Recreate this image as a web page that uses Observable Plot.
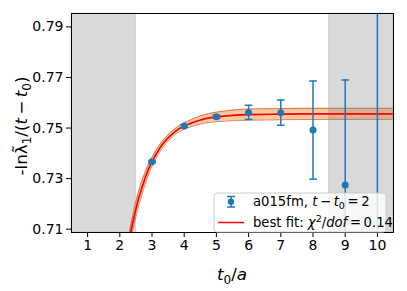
<!DOCTYPE html>
<html><head><meta charset="utf-8">
<script src="https://cdn.jsdelivr.net/npm/d3@7"></script>
<script src="https://cdn.jsdelivr.net/npm/@observablehq/plot@0.6"></script>
<style>body{margin:0;background:#fff} svg{display:block}</style>
</head><body><div id="chart"></div>
<script>
// data points (effective mass)
const t0 = [3, 4, 5, 6, 7, 8, 9, 10];
const effMass = [0.7367, 0.7508, 0.7545, 0.7562, 0.7561, 0.7492, 0.7275, 0.68];
const effErr = [0.0004, 0.0005, 0.0006, 0.0028, 0.0050, 0.0194, 0.0415, 0.2];
// best-fit curve and its band
const fitT = [2.2, 2.3, 2.4, 2.5, 2.6, 2.8, 3.0, 3.25, 3.5, 3.75, 4.0, 4.5, 5.0, 5.5, 6.0, 7.0, 8.0, 9.0, 10.0, 10.5];
const fitY = [0.6986, 0.7060, 0.7124, 0.7179, 0.7228, 0.7307, 0.7367, 0.7422, 0.7461, 0.7489, 0.7508, 0.7532, 0.7544, 0.7550, 0.7553, 0.7555, 0.7556, 0.7556, 0.7556, 0.7556];
const fitErr = [0.0030, 0.0030, 0.0030, 0.0030, 0.0029, 0.0024, 0.0018, 0.0014, 0.0012, 0.0012, 0.0013, 0.0016, 0.0019, 0.0021, 0.0022, 0.0022, 0.0022, 0.0022, 0.0022, 0.0022];
// excluded ranges (grey)
const exclLo = [0.5, 8.5];
const exclHi = [2.5, 10.5];
// axes
const xTicks = [1, 2, 3, 4, 5, 6, 7, 8, 9, 10];
const yTicks = [0.71, 0.73, 0.75, 0.77, 0.79];
const xDomain = [0.5, 10.5];
const yDomain = [0.7087, 0.7953];
const legendLabels = ["a015fm", "best fit"];

const pts = t0.map((t, i) => ({t, y: effMass[i], e: effErr[i]}));
const fit = fitT.map((t, i) => ({t, y: fitY[i], e: fitErr[i]}));
const excl = exclLo.map((a, i) => ({a, b: exclHi[i]}));
const capW = 0.12;
const blue = "#1f77b4";
const ts = "\u2009";

const chart = Plot.plot({
  width: 407, height: 291,
  marginLeft: 71, marginRight: 14, marginTop: 13, marginBottom: 59,
  style: {fontFamily: "DejaVu Sans", fontSize: "14px", color: "black", background: "white"},
  x: {domain: xDomain},
  y: {domain: yDomain},
  marks: [
    Plot.areaY(fit, {x: "t", y1: d => d.y - d.e, y2: d => d.y + d.e, fill: "#f99a55", fillOpacity: 0.55, curve: "natural", clip: true}),
    Plot.line(fit, {x: "t", y: d => d.y - d.e, stroke: "#d0652f", strokeOpacity: 0.8, strokeWidth: 1, curve: "natural", clip: true}),
    Plot.line(fit, {x: "t", y: d => d.y + d.e, stroke: "#d0652f", strokeOpacity: 0.8, strokeWidth: 1, curve: "natural", clip: true}),
    Plot.rect(excl, {x1: "a", x2: "b", y1: yDomain[0], y2: yDomain[1], fill: "#808080", fillOpacity: 0.3, stroke: "#808080", strokeOpacity: 0.25}),
    Plot.line(fit, {x: "t", y: "y", stroke: "#ff0000", strokeWidth: 1.7, curve: "natural", clip: true}),
    Plot.ruleX(pts, {x: "t", y1: d => d.y - d.e, y2: d => d.y + d.e, stroke: blue, strokeWidth: 1.5, clip: true}),
    Plot.link(pts, {x1: d => d.t - capW, x2: d => d.t + capW, y1: d => d.y - d.e, y2: d => d.y - d.e, stroke: blue, strokeWidth: 1.5, clip: true}),
    Plot.link(pts, {x1: d => d.t - capW, x2: d => d.t + capW, y1: d => d.y + d.e, y2: d => d.y + d.e, stroke: blue, strokeWidth: 1.5, clip: true}),
    Plot.dot(pts, {x: "t", y: "y", r: 3.5, fill: blue, clip: true}),
    Plot.frame({stroke: "black", strokeWidth: 1}),
    Plot.axisX({ticks: xTicks, tickSize: 5, tickPadding: 3, label: null, fontSize: 14}),
    Plot.axisY({ticks: yTicks, tickFormat: d3.format(".2f"), tickSize: 5, tickPadding: 3, label: null, fontSize: 14})
  ]
});
document.getElementById("chart").appendChild(chart);

const svg = d3.select(chart);
const font = "DejaVu Sans";
// y label
const yl = svg.append("text").attr("transform", "translate(27,126) rotate(-90)")
  .attr("text-anchor", "middle").attr("font-family", font).attr("font-size", 16.7).attr("fill", "black");
yl.append("tspan").text("-ln");
yl.append("tspan").text("λ\u0303");
yl.append("tspan").attr("dy", 3.5).attr("font-size", 12).text("1");
yl.append("tspan").attr("dy", -3.5).text("/(");
yl.append("tspan").attr("font-style", "italic").text("t");
yl.append("tspan").text(ts + "−" + ts);
yl.append("tspan").attr("font-style", "italic").text("t");
yl.append("tspan").attr("dy", 3.5).attr("font-size", 12).text("0");
yl.append("tspan").attr("dy", -3.5).text(")");
// x label
const xl = svg.append("text").attr("x", 232).attr("y", 280)
  .attr("text-anchor", "middle").attr("font-family", font).attr("font-size", 16.7).attr("fill", "black");
xl.append("tspan").attr("font-style", "italic").text("t");
xl.append("tspan").attr("dy", 3.5).attr("font-size", 12).text("0");
xl.append("tspan").attr("dy", -3.5).text("/");
xl.append("tspan").attr("font-style", "italic").text("a");
// legend
const lg = svg.append("g").attr("font-family", font).attr("font-size", 13.2).attr("fill", "black").attr("text-anchor", "start");
lg.append("rect").attr("x", 214).attr("y", 193).attr("width", 172).attr("height", 39).attr("rx", 3)
  .attr("fill", "white").attr("fill-opacity", 0.8).attr("stroke", "#cccccc");
lg.append("line").attr("x1", 231).attr("x2", 231).attr("y1", 196.5).attr("y2", 207).attr("stroke", blue).attr("stroke-width", 1.5);
lg.append("line").attr("x1", 227).attr("x2", 235).attr("y1", 196.5).attr("y2", 196.5).attr("stroke", blue).attr("stroke-width", 1.5);
lg.append("line").attr("x1", 227).attr("x2", 235).attr("y1", 207).attr("y2", 207).attr("stroke", blue).attr("stroke-width", 1.5);
lg.append("circle").attr("cx", 231).attr("cy", 201.7).attr("r", 3.2).attr("fill", blue);
const t1 = lg.append("text").attr("x", 253).attr("y", 206).attr("text-anchor", "start");
t1.append("tspan").text(legendLabels[0] + ", ");
t1.append("tspan").attr("font-style", "italic").text("t");
t1.append("tspan").text(ts + "−" + ts);
t1.append("tspan").attr("font-style", "italic").text("t");
t1.append("tspan").attr("dy", 3).attr("font-size", 9.5).text("0");
t1.append("tspan").attr("dy", -3).text(ts + "=" + ts + "2");
lg.append("line").attr("x1", 218).attr("x2", 244).attr("y1", 222.5).attr("y2", 222.5).attr("stroke", "#ff0000").attr("stroke-width", 1.5);
const t2 = lg.append("text").attr("x", 253).attr("y", 227).attr("text-anchor", "start");
t2.append("tspan").text(legendLabels[1] + ": ");
t2.append("tspan").attr("font-style", "italic").text("χ");
t2.append("tspan").attr("dy", -5).attr("font-size", 9.5).text("2");
t2.append("tspan").attr("dy", 5).text("/");
t2.append("tspan").attr("font-style", "italic").text("dof");
t2.append("tspan").text(ts + "=" + ts + "0.14");
</script>
</body></html>
